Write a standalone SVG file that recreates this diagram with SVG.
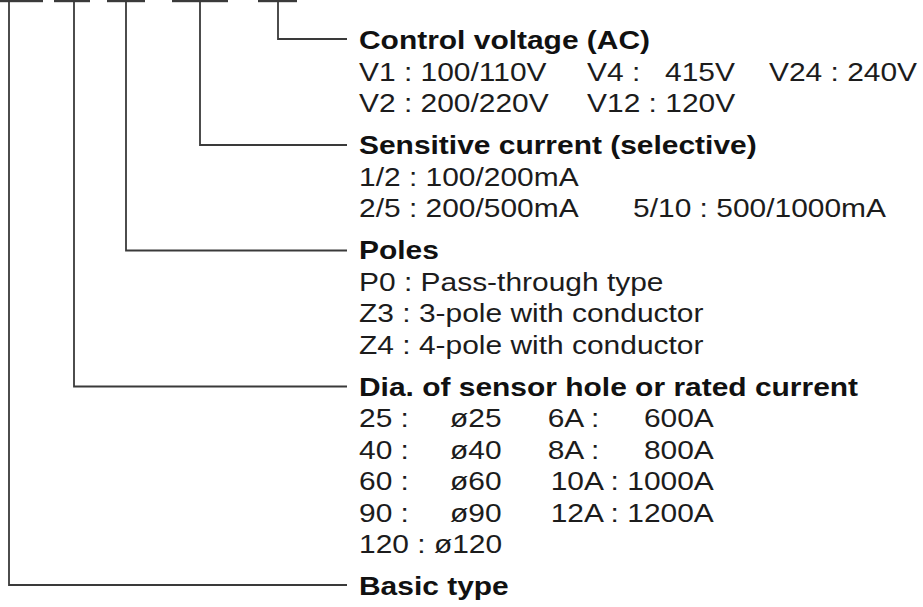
<svg xmlns="http://www.w3.org/2000/svg" width="923" height="607" viewBox="0 0 923 607">
<style>
text{font-family:"Liberation Sans",Arial,sans-serif;font-size:26.5px;fill:#1c1c1c}
.h{font-weight:bold;fill:#111}
.e{text-anchor:end}
.c{fill:none;stroke:#3a3a3a;stroke-width:1.8}
.bar{fill:#3a3a3a}
</style>
<rect width="923" height="607" fill="#fff"/>
<g id="connectors">
<rect class="bar" x="0" y="0" width="43" height="2.2"/>
<rect class="bar" x="54" y="0" width="36" height="2.2"/>
<rect class="bar" x="107" y="0" width="38" height="2.2"/>
<rect class="bar" x="172" y="0" width="56" height="2.2"/>
<rect class="bar" x="258" y="0" width="39" height="2.2"/>
<polyline class="c" points="278,1 278,39 347,39"/>
<polyline class="c" points="200,1 200,145 347,145"/>
<polyline class="c" points="126,1 126,250.5 347,250.5"/>
<polyline class="c" points="74,1 74,386.5 347,386.5"/>
<polyline class="c" points="9,1 9,585 347,585"/>
</g>
<g id="control-voltage" transform="translate(359 0) scale(1.13 1)">
<text class="h" x="0" y="49.5">Control voltage (AC)</text>
<text x="0" y="81">V1 : 100/110V</text>
<text x="201.8" y="81">V4 :</text>
<text x="270.8" y="81">415V</text>
<text x="362.8" y="81">V24 : 240V</text>
<text x="0" y="112.5">V2 : 200/220V</text>
<text x="201.8" y="112.5">V12 : 120V</text>
</g>
<g id="sensitive-current" transform="translate(359 0) scale(1.13 1)">
<text class="h" x="0" y="154.5">Sensitive current (selective)</text>
<text x="0" y="186">1/2 : 100/200mA</text>
<text x="0" y="217.5">2/5 : 200/500mA</text>
<text x="242.5" y="217.5">5/10 : 500/1000mA</text>
</g>
<g id="poles" transform="translate(359 0) scale(1.13 1)">
<text class="h" x="0" y="259.5">Poles</text>
<text x="0" y="291">P0 : Pass-through type</text>
<text x="0" y="322.5">Z3 : 3-pole with conductor</text>
<text x="0" y="354">Z4 : 4-pole with conductor</text>
</g>
<g id="dia" transform="translate(359 0) scale(1.13 1)">
<text class="h" x="0" y="396">Dia. of sensor hole or rated current</text>
<text x="0" y="427.5">25 :</text><text x="80.5" y="427.5">ø25</text><text x="167" y="427.5">6A :</text><text class="e" x="314" y="427.5">600A</text>
<text x="0" y="459">40 :</text><text x="80.5" y="459">ø40</text><text x="167" y="459">8A :</text><text class="e" x="314" y="459">800A</text>
<text x="0" y="490.5">60 :</text><text x="80.5" y="490.5">ø60</text><text class="e" x="314" y="490.5">10A : 1000A</text>
<text x="0" y="522">90 :</text><text x="80.5" y="522">ø90</text><text class="e" x="314" y="522">12A : 1200A</text>
<text x="0" y="553.5">120 : ø120</text>
</g>
<g id="basic-type" transform="translate(359 0) scale(1.13 1)">
<text class="h" x="0" y="595.5">Basic type</text>
</g>
</svg>
